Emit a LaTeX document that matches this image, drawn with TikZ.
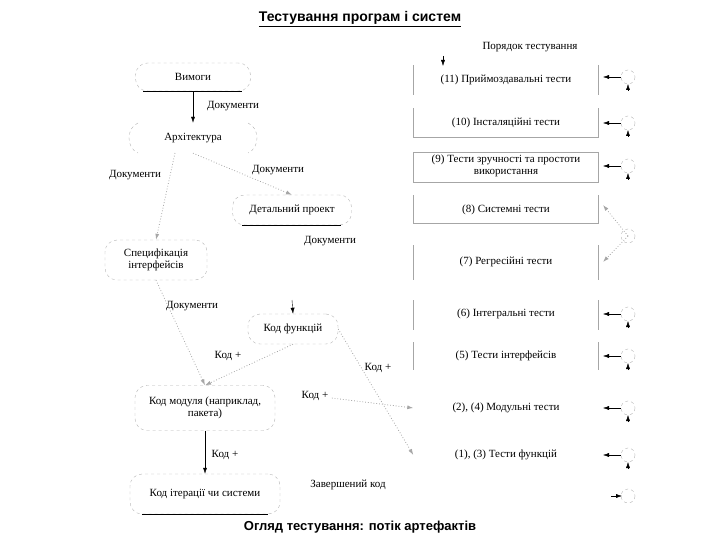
\documentclass[tikz,border=0pt]{standalone}
\usepackage{fontspec}
\setmainfont{Liberation Serif}
\newfontfamily\titlefont{Liberation Sans}
\usetikzlibrary{arrows.meta}
\begin{document}
\begin{tikzpicture}[x=1pt,y=-1pt,
  art/.style={draw=gray!60,dashed,rounded corners=12pt,align=center,font=\fontsize{11}{12}\selectfont,inner sep=3pt},
  lbl/.style={font=\fontsize{11}{12}\selectfont},
  tst/.style={font=\fontsize{11}{12}\selectfont,align=center},
  flow/.style={-{Latex[length=6pt,width=4pt]},draw=gray!70,dotted,thick},
  solidflow/.style={-{Latex[length=6pt,width=4pt]},black},
  loopc/.style={draw=gray!60,dashed},
  side/.style={draw=gray!70}]
\useasboundingbox (0,0) rectangle (720,540);
\node[font=\titlefont\bfseries\fontsize{14}{16}\selectfont] (title) at (360,19) {\underline{Тестування програм і систем}};
\node[font=\titlefont\bfseries\fontsize{13}{15}\selectfont] (sub) at (360,527) {Огляд тестування: потік артефактів};

% left artefacts
\node[art,minimum width=115pt,minimum height=28pt] (vym) at (193,77) {Вимоги};
\node[lbl,minimum width=110pt,minimum height=30pt] (arch) at (193,138) {Архітектура};
\draw[loopc] (138,123) .. controls (126,128) and (126,148) .. (138,153);
\draw[loopc] (248,123) .. controls (260,128) and (260,148) .. (248,153);
\node[art,minimum width=119pt,minimum height=30pt] (det) at (292,210) {Детальний проект};
\node[art,minimum width=102pt,minimum height=40pt] (spec) at (156,260) {Специфікація\\інтерфейсів};
\node[art,minimum width=90pt,minimum height=30pt] (func) at (293,329) {Код функцій};
\node[art,minimum width=140pt,minimum height=45pt] (mod) at (205,408) {Код модуля (наприклад,\\пакета)};
\node[art,minimum width=150pt,minimum height=40pt] (iter) at (205,494) {Код ітерації чи системи};
\draw (vym.south west)++(8,0) -- ++(99,0);
\draw (det.south west)++(10,0) -- ++(99,0);
\draw (iter.south west)++(12,0) -- ++(126,0);

\draw[solidflow] (vym) -- (arch);
\node[lbl] (d1) at (233,106) {Документи};
\coordinate (a1) at (175,153);
\draw[flow] (a1) -- (spec.north);
\node[lbl] (d2) at (135,175) {Документи};
\draw[flow] (arch.south) -- (det.north);
\node[lbl] (d3) at (278,170) {Документи};
\node[lbl] (d4) at (330,241) {Документи};
\draw[flow] (spec.south) -- (mod.north);
\node[lbl] (d5) at (192,306) {Документи};
\coordinate (ftop) at (292,300);
\draw[solidflow] (ftop) -- (func.north);
\draw[flow] (func.south) -- (mod.north);
\node[lbl] (k1) at (228,356) {Код +};
\node[lbl] (k2) at (378,368) {Код +};
\node[lbl] (k3) at (315,396) {Код +};
\node[lbl] (k4) at (225,455) {Код +};
\draw[solidflow] (mod.south) -- (iter.north);
\node[lbl] (zav) at (348,485) {Завершений код};

% right column
\node[lbl] (order) at (530,47) {Порядок тестування};
\coordinate (ordarr) at (443,56);
\draw[solidflow] (ordarr) -- ++(0,10);
\foreach \n/\y/\t in {t11/80/{(11) Приймоздавальні тести},t10/123/{(10) Інсталяційні тести},t9/166/{(9) Тести зручності та простоти\\використання},t8/210/{(8) Системні тести},t7/262/{(7) Регресійні тести},t6/314/{(6) Інтегральні тести},t5/356/{(5) Тести інтерфейсів},t24/408/{(2), (4) Модульні тести},t13/455/{(1), (3) Тести функцій}}
  \node[tst,minimum width=185pt] (\n) at (506,\y) {\t};
\draw[side] (413,65) -- (413,95) (598,65) -- (598,95);
\draw[side] (413,108) -- (413,137) -- (598,137) -- (598,108);
\draw[side] (413,152) rectangle (598,182);
\draw[side] (413,195) -- (413,223) -- (598,223) -- (598,195);
\draw[side] (413,245) -- (413,280) (598,245) -- (598,280);
\draw[side] (413,300) -- (413,330) (598,300) -- (598,330);
\draw[side] (413,342) -- (413,370) (598,342) -- (598,370);
\draw[flow] (k3) -- (t24.west);
\draw[flow] (func.east) -- (t13.west);

% loops on the right
\foreach \n/\y in {t11/77,t10/123,t9/166,t6/314,t5/356,t24/408,t13/455}{
  \draw[loopc] (628,\y) circle (7);
  \draw[solidflow] (621,\y) -- (603,\y);
  \draw[solidflow] (628,\y+14) -- (628,\y+7);
}
\coordinate (lp) at (628,236);
\draw[loopc] (lp) circle (7);
\draw[flow] (lp) -- (603,205);
\draw[flow] (lp) -- (603,262);
\coordinate (last) at (628,496);
\draw[loopc] (last) circle (7);
\draw[solidflow] (611,496) -- (622,496);
\end{tikzpicture}
\end{document}
